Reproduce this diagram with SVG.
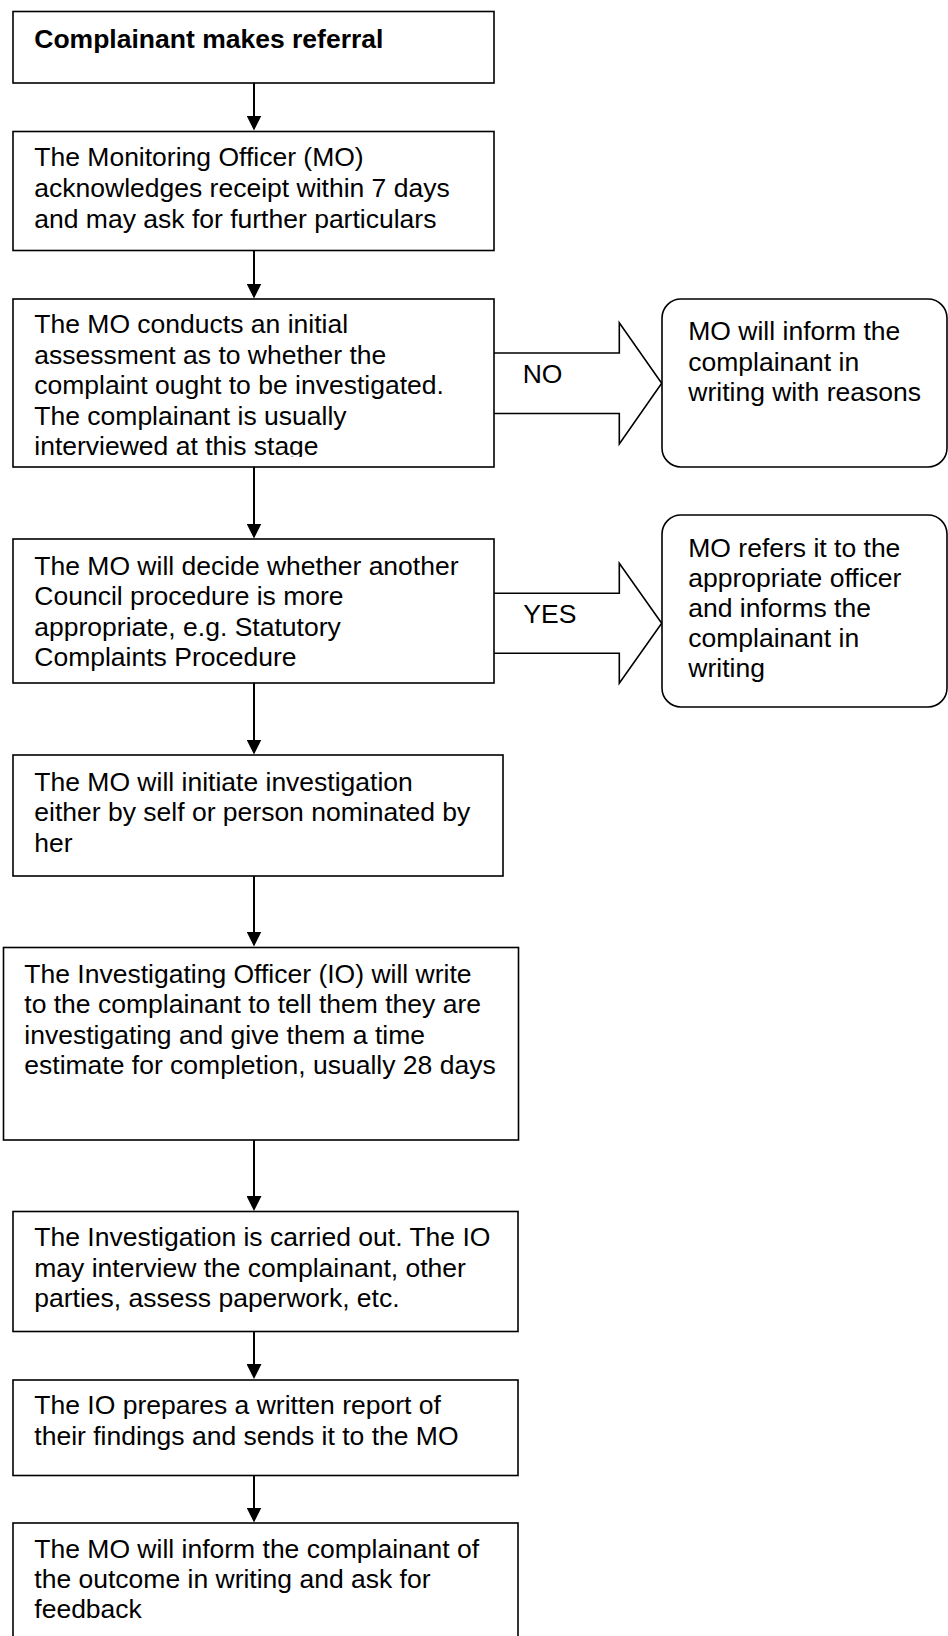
<svg xmlns="http://www.w3.org/2000/svg" width="948" height="1636" viewBox="0 0 948 1636">
<style>
.box{fill:#fff;stroke:#000;stroke-width:1.6}
.blk{fill:#fff;stroke:#000;stroke-width:1.6;stroke-linejoin:miter}
.t{font-family:"Liberation Sans",Arial,sans-serif;font-size:26.5px;fill:#000}
.b{font-weight:bold}
.conn{stroke:#000;stroke-width:2;fill:none}
</style>
<defs>
<marker id="ah" viewBox="0 0 15 15" refX="11" refY="7.5" markerWidth="15" markerHeight="15" markerUnits="userSpaceOnUse" orient="auto">
<path d="M0,0 L15,7.5 L0,15 z" fill="#000"/>
</marker>
<clipPath id="c3"><rect x="13" y="299" width="481" height="158"/></clipPath>
</defs>
<rect width="948" height="1636" fill="#fff"/>
<g id="connectors">
<line class="conn" x1="254" y1="83" x2="254" y2="126.5" marker-end="url(#ah)"/>
<line class="conn" x1="254" y1="250.5" x2="254" y2="294.5" marker-end="url(#ah)"/>
<line class="conn" x1="254" y1="467" x2="254" y2="534.5" marker-end="url(#ah)"/>
<line class="conn" x1="254" y1="683" x2="254" y2="750.5" marker-end="url(#ah)"/>
<line class="conn" x1="254" y1="876" x2="254" y2="942.5" marker-end="url(#ah)"/>
<line class="conn" x1="254" y1="1140" x2="254" y2="1207" marker-end="url(#ah)"/>
<line class="conn" x1="254" y1="1331.5" x2="254" y2="1375" marker-end="url(#ah)"/>
<line class="conn" x1="254" y1="1475.5" x2="254" y2="1518.5" marker-end="url(#ah)"/>
<g id="arrow-no">
<path class="blk" d="M494,353 H619.3 V322.7 L661.7,383.3 L619.3,444 V413.5 H494"/>
<text class="t" x="522.7" y="382.7">NO</text>
</g>
<g id="arrow-yes">
<path class="blk" d="M494,593.3 H619.3 V563.3 L661.7,623.3 L619.3,683.3 V653.3 H494"/>
<text class="t" x="523.3" y="623.3">YES</text>
</g>
</g>
<g id="n1">
<rect class="box" x="13" y="11.5" width="481" height="71.5"/>
<text class="t b" x="34.3" y="47.7">Complainant makes referral</text>
</g>
<g id="n2">
<rect class="box" x="13" y="131.5" width="481" height="119"/>
<text class="t" x="34.3" y="165.7">The Monitoring Officer (MO)</text>
<text class="t" x="34.3" y="196.7">acknowledges receipt within 7 days</text>
<text class="t" x="34.3" y="227.7">and may ask for further particulars</text>
</g>
<g id="n3">
<rect class="box" x="13" y="299" width="481" height="168"/>
<g clip-path="url(#c3)">
<text class="t" x="34.3" y="333.3">The MO conducts an initial</text>
<text class="t" x="34.3" y="363.8">assessment as to whether the</text>
<text class="t" x="34.3" y="394.3">complaint ought to be investigated.</text>
<text class="t" x="34.3" y="424.8">The complainant is usually</text>
<text class="t" x="34.3" y="455.3">interviewed at this stage</text>
</g>
</g>
<g id="n3r">
<rect class="box" x="662" y="299" width="285" height="168" rx="19" ry="19"/>
<text class="t" x="688.3" y="340">MO will inform the</text>
<text class="t" x="688.3" y="370.5">complainant in</text>
<text class="t" x="688.3" y="400.5">writing with reasons</text>
</g>
<g id="n4">
<rect class="box" x="13" y="539" width="481" height="144"/>
<text class="t" x="34.3" y="574.5">The MO will decide whether another</text>
<text class="t" x="34.3" y="605">Council procedure is more</text>
<text class="t" x="34.3" y="635.5">appropriate, e.g. Statutory</text>
<text class="t" x="34.3" y="666">Complaints Procedure</text>
</g>
<g id="n4r">
<rect class="box" x="662" y="515" width="285" height="192" rx="19" ry="19"/>
<text class="t" x="688.3" y="556.7">MO refers it to the</text>
<text class="t" x="688.3" y="586.7">appropriate officer</text>
<text class="t" x="688.3" y="616.7">and informs the</text>
<text class="t" x="688.3" y="646.7">complainant in</text>
<text class="t" x="688.3" y="677">writing</text>
</g>
<g id="n5">
<rect class="box" x="13" y="755" width="490" height="121"/>
<text class="t" x="34.3" y="790.7">The MO will initiate investigation</text>
<text class="t" x="34.3" y="821">either by self or person nominated by</text>
<text class="t" x="34.3" y="851.7">her</text>
</g>
<g id="n6">
<rect class="box" x="3.5" y="947.5" width="515" height="192.5"/>
<text class="t" x="24.3" y="982.5">The Investigating Officer (IO) will write</text>
<text class="t" x="24.3" y="1013">to the complainant to tell them they are</text>
<text class="t" x="24.3" y="1043.5">investigating and give them a time</text>
<text class="t" x="24.3" y="1074">estimate for completion, usually 28 days</text>
</g>
<g id="n7">
<rect class="box" x="13" y="1211.5" width="505" height="120"/>
<text class="t" x="34.3" y="1246">The Investigation is carried out. The IO</text>
<text class="t" x="34.3" y="1276.7">may interview the complainant, other</text>
<text class="t" x="34.3" y="1306.7">parties, assess paperwork, etc.</text>
</g>
<g id="n8">
<rect class="box" x="13" y="1380" width="505" height="95.5"/>
<text class="t" x="34.3" y="1414.3">The IO prepares a written report of</text>
<text class="t" x="34.3" y="1445">their findings and sends it to the MO</text>
</g>
<g id="n9">
<rect class="box" x="13" y="1523" width="505" height="130"/>
<text class="t" x="34.3" y="1558.3">The MO will inform the complainant of</text>
<text class="t" x="34.3" y="1588.3">the outcome in writing and ask for</text>
<text class="t" x="34.3" y="1618.3">feedback</text>
</g>
</svg>
